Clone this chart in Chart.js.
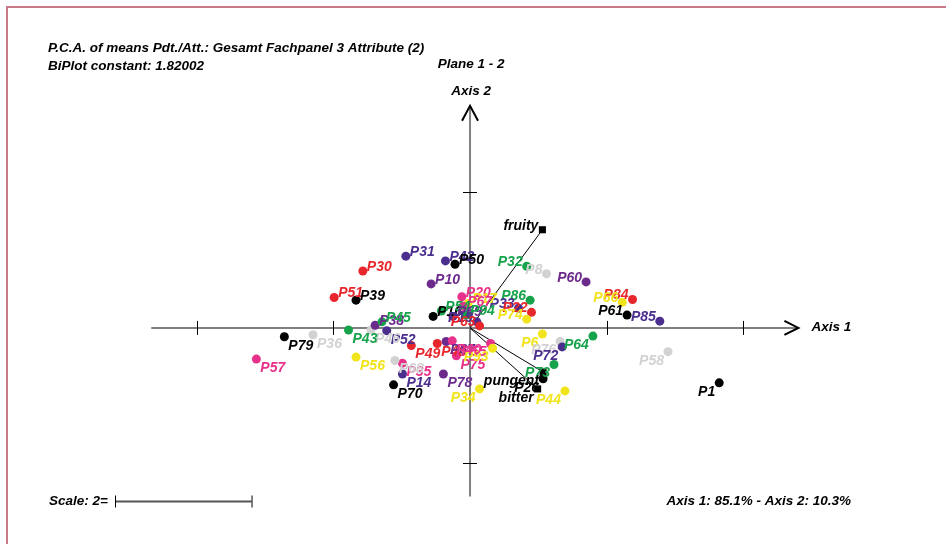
<!DOCTYPE html>
<html lang="en">
<head>
<meta charset="UTF-8">
<title>P.C.A. BiPlot - Plane 1 - 2</title>
<script src="https://cdn.jsdelivr.net/npm/chart.js"></script>
<style>
  body { margin: 0; background: #fff; }
  #wrap { position: relative; width: 946px; height: 544px; }
</style>
</head>
<body>
<div id="wrap"><canvas id="biplot" width="946" height="544"></canvas></div>
<script>
  // products (means), coordinates on axis 1 and axis 2
  const products = ['P1','P58','P85','P61','P84','P66','P60','P8','P32','P86','P33','P22','P74','P6','P76','P72','P64','P73','P26','P44',
    'P34','P78','P70','P14','P35','P68','P49','P48','P87','P75','P55','P93','P52','P46','P38','P45','P43','P36','P79','P57',
    'P56','P51','P39','P30','P31','P42','P50','P10','P20','P17','P67','P16','P54','P69','P94','P19','P63','P40'];
  const axis1 = [3.65, 2.90, 2.78, 2.30, 2.38, 2.23, 1.70, 1.12, 0.83, 0.88, 0.71, 0.90, 0.83, 1.06, 1.32, 1.35, 1.80, 1.23, 1.07, 1.39,
    0.14, -0.39, -1.12, -0.99, -0.99, -1.10, -0.86, -0.48, -0.35, -0.20, 0.30, 0.33, -1.22, -1.45, -1.39, -1.29, -1.78, -2.30, -2.72, -3.13,
    -1.67, -1.99, -1.67, -1.57, -0.94, -0.36, -0.22, -0.57, -0.12, -0.03, -0.10, -0.54, -0.42, -0.25, -0.06, 0.10, 0.14, -0.26];
  const axis2 = [-0.81, -0.35, 0.10, 0.19, 0.42, 0.38, 0.68, 0.80, 0.91, 0.41, 0.29, 0.23, 0.13, -0.09, -0.20, -0.28, -0.12, -0.54, -0.75, -0.93,
    -0.90, -0.68, -0.84, -0.68, -0.52, -0.48, -0.26, -0.23, -0.20, -0.41, -0.23, -0.30, -0.04, -0.03, 0.04, 0.09, -0.03, -0.10, -0.13, -0.46,
    -0.43, 0.45, 0.41, 0.84, 1.06, 0.99, 0.94, 0.65, 0.46, 0.36, 0.32, 0.17, 0.25, 0.17, 0.19, 0.09, 0.03, -0.19];
  // colour group of each product (index into groupColors below)
  const productGroup = [1, 7, 2, 1, 0, 5, 3, 7, 4, 4, 2, 0, 5, 5, 7, 2, 4, 4, 1, 5,
    5, 3, 1, 2, 6, 7, 0, 0, 3, 6, 6, 5, 2, 7, 3, 4, 4, 7, 1, 6,
    5, 0, 1, 0, 2, 2, 1, 3, 6, 5, 6, 1, 4, 3, 4, 2, 0, 6];

  // attributes (biplot vectors)
  const attributes = ['fruity', 'pungent', 'bitter'];
  const attrAxis1 = [1.06, 1.07, 0.99];
  const attrAxis2 = [1.45, -0.65, -0.90];

  const axis1Ticks = [-4, -2, 2, 4];
  const axis2Ticks = [-2, 2];
  const axisPercent = [85.1, 10.3];
  const biplotConstant = '1.82002';
  const scaleUnit = 2;

  // view window and axis extents (in plot units)
  const xView = [-6.812, 6.899];
  const yView = [-3.116, 4.768];
  const axis1Extent = [-4.67, 4.81];
  const axis2Extent = [-2.49, 3.28];

  const groupColors = ['#e8272c', '#000000', '#4a2f8f', '#6c2b8c', '#17a34b', '#f2e41c', '#e8318b', '#d2d2d2'];
  const labelFont = 'italic bold 14px "Liberation Sans", Arial, sans-serif';
  const textFont = 'italic bold 13.5px "Liberation Sans Narrow", "Arial Narrow", "Liberation Sans", sans-serif';

  function placeLabel(ctx, text, px, py, u, v) {
    ctx.textAlign = u >= 0 ? 'right' : 'left';
    ctx.textBaseline = 'middle';
    ctx.fillText(text, u >= 0 ? px - 4 : px + 4, v >= 0 ? py - 4 : py + 9);
  }

  const biplotDecor = {
    id: 'biplotDecor',
    beforeDatasetsDraw(chart) {
      const ctx = chart.ctx;
      const x = chart.scales.x, y = chart.scales.y;
      const ox = x.getPixelForValue(0), oy = y.getPixelForValue(0);
      ctx.save();

      // page frame
      ctx.strokeStyle = '#c97a87';
      ctx.lineWidth = 2;
      ctx.beginPath();
      ctx.moveTo(7, 544); ctx.lineTo(7, 7); ctx.lineTo(946, 7);
      ctx.stroke();

      // axes
      const x0 = x.getPixelForValue(axis1Extent[0]), x1 = x.getPixelForValue(axis1Extent[1]);
      const y0 = y.getPixelForValue(axis2Extent[0]), y1 = y.getPixelForValue(axis2Extent[1]);
      ctx.strokeStyle = '#808080';
      ctx.lineWidth = 2;
      ctx.beginPath();
      ctx.moveTo(x0, oy); ctx.lineTo(x1, oy);
      ctx.moveTo(ox, y0); ctx.lineTo(ox, y1);
      ctx.stroke();

      // arrow heads
      ctx.strokeStyle = '#000';
      ctx.lineWidth = 2;
      ctx.beginPath();
      ctx.moveTo(x1 - 14, oy - 7); ctx.lineTo(x1, oy); ctx.lineTo(x1 - 14, oy + 7);
      ctx.moveTo(ox - 8, y1 + 15); ctx.lineTo(ox, y1); ctx.lineTo(ox + 8, y1 + 15);
      ctx.stroke();

      // ticks
      ctx.lineWidth = 1;
      ctx.beginPath();
      axis1Ticks.forEach(t => {
        const px = Math.round(x.getPixelForValue(t)) + 0.5;
        ctx.moveTo(px, oy - 7); ctx.lineTo(px, oy + 7);
      });
      axis2Ticks.forEach(t => {
        const py = Math.round(y.getPixelForValue(t)) + 0.5;
        ctx.moveTo(ox - 7, py); ctx.lineTo(ox + 7, py);
      });
      ctx.stroke();

      // texts
      ctx.fillStyle = '#000';
      ctx.font = textFont;
      ctx.textBaseline = 'middle';
      ctx.textAlign = 'left';
      ctx.fillText('P.C.A. of means Pdt./Att.: Gesamt Fachpanel 3 Attribute (2)', 48, 48);
      ctx.fillText('BiPlot constant: ' + biplotConstant, 48, 66);
      ctx.textAlign = 'center';
      ctx.fillText('Plane 1 - 2', ox + 1, 64);
      ctx.fillText('Axis 2', ox + 1, y1 - 15);
      ctx.textAlign = 'left';
      ctx.fillText('Axis 1', x1 + 13, oy - 1);

      // scale bar
      const barLen = x.getPixelForValue(scaleUnit) - x.getPixelForValue(0);
      const bx = 115, by = 501.5;
      ctx.textAlign = 'right';
      ctx.fillText('Scale: ' + scaleUnit + '=', bx - 7, by);
      ctx.strokeStyle = '#555';
      ctx.lineWidth = 2;
      ctx.beginPath();
      ctx.moveTo(bx, by); ctx.lineTo(bx + barLen, by);
      ctx.stroke();
      ctx.strokeStyle = '#000';
      ctx.lineWidth = 1;
      ctx.beginPath();
      ctx.moveTo(bx + 0.5, by - 6); ctx.lineTo(bx + 0.5, by + 6);
      ctx.moveTo(bx + barLen + 0.5, by - 6); ctx.lineTo(bx + barLen + 0.5, by + 6);
      ctx.stroke();

      ctx.textAlign = 'right';
      ctx.fillText('Axis 1: ' + axisPercent[0] + '% - Axis 2: ' + axisPercent[1] + '%', 851, by);
      ctx.restore();
    },
    afterDatasetsDraw(chart) {
      const ctx = chart.ctx;
      ctx.save();
      ctx.font = labelFont;
      const pMeta = chart.getDatasetMeta(0);
      products.forEach((name, i) => {
        const pt = pMeta.data[i];
        ctx.fillStyle = groupColors[productGroup[i]];
        placeLabel(ctx, name, pt.x, pt.y, axis1[i], axis2[i]);
      });
      const aMeta = chart.getDatasetMeta(1);
      ctx.fillStyle = '#000';
      attributes.forEach((name, i) => {
        const pt = aMeta.data[i];
        placeLabel(ctx, name, pt.x, pt.y, attrAxis1[i], attrAxis2[i]);
      });
      ctx.restore();
    }
  };

  const datasets = [
    {
      label: 'Products',
      data: products.map((p, i) => ({ x: axis1[i], y: axis2[i] })),
      pointBackgroundColor: productGroup.map(g => groupColors[g]),
      pointBorderWidth: 0,
      pointRadius: 4.5,
      showLine: false
    },
    {
      label: 'Attributes',
      data: attributes.map((a, i) => ({ x: attrAxis1[i], y: attrAxis2[i] })),
      pointStyle: 'rect',
      pointBackgroundColor: '#000',
      pointBorderWidth: 0,
      pointRadius: 5,
      showLine: false
    }
  ];
  attributes.forEach((a, i) => {
    datasets.push({
      label: a + ' vector',
      data: [{ x: 0, y: 0 }, { x: attrAxis1[i], y: attrAxis2[i] }],
      showLine: true,
      borderColor: '#000',
      borderWidth: 1,
      pointRadius: 0
    });
  });

  new Chart(document.getElementById('biplot'), {
    type: 'scatter',
    data: { datasets: datasets },
    options: {
      responsive: false,
      animation: false,
      clip: false,
      layout: { padding: 0 },
      plugins: { legend: { display: false }, tooltip: { enabled: false } },
      scales: {
        x: { type: 'linear', min: xView[0], max: xView[1], display: false },
        y: { type: 'linear', min: yView[0], max: yView[1], display: false }
      }
    },
    plugins: [biplotDecor]
  });
</script>
</body>
</html>
